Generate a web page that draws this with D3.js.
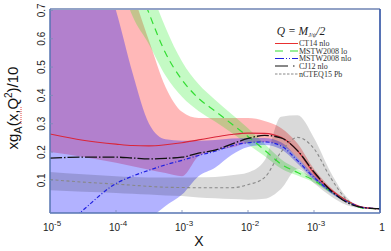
<!DOCTYPE html>
<html><head><meta charset="utf-8">
<script src="https://cdn.jsdelivr.net/npm/d3@7"></script>
<style>body{margin:0;background:#fff;} svg{display:block}</style>
</head><body><svg id="c" width="391" height="251"></svg>
<script>
// log10(x) grid
const logX = [-5,-4.5,-4,-3.75,-3.5,-3.25,-3,-2.75,-2.5,-2.25,-2,-1.75,-1.5,-1.25,-1,-0.75,-0.5,-0.25,0];
// CT14 nlo
const ct14    = [0.264,0.242,0.228,0.223,0.222,0.226,0.233,0.243,0.253,0.262,0.267,0.266,0.252,0.205,0.125,0.068,0.028,0.005,0];
const ct14Lo  = [0.200,0.183,0.162,0.150,0.138,0.126,0.115,0.185,0.205,0.216,0.232,0.236,0.225,0.180,0.110,0.060,0.025,0.004,0];
const ct14Hi  = [1.05,1.00,0.90,0.76,0.593,0.43,0.342,0.320,0.320,0.320,0.320,0.310,0.285,0.230,0.140,0.075,0.030,0.005,0];
// MSTW2008 lo
const mstwLo   = [2.2,1.6,1.1,0.85,0.69,0.55,0.455,0.39,0.345,0.30,0.255,0.207,0.158,0.128,0.10,0.062,0.028,0.002,0];
const mstwLoLo = [1.8,1.3,0.85,0.68,0.58,0.47,0.395,0.345,0.308,0.268,0.228,0.186,0.142,0.117,0.092,0.056,0.025,0.001,0];
const mstwLoHi = [2.6,1.9,1.4,1.05,0.80,0.64,0.52,0.44,0.385,0.334,0.284,0.229,0.175,0.14,0.108,0.068,0.031,0.003,0];
// MSTW2008 nlo
const mstwNlo   = [-0.11,-0.005,0.089,0.115,0.136,0.155,0.171,0.188,0.203,0.222,0.233,0.236,0.222,0.17,0.11,0.062,0.025,0.004,0];
const mstwNloLo = [-0.5,-0.35,-0.2,-0.11,-0.04,0.01,0.05,0.115,0.145,0.19,0.218,0.225,0.21,0.16,0.102,0.056,0.022,0.003,0];
const mstwNloHi = [1.2,1.0,0.70,0.48,0.30,0.245,0.24,0.24,0.243,0.248,0.25,0.25,0.235,0.18,0.118,0.068,0.028,0.005,0];
// CJ12 nlo
const cj12 = [0.179,0.182,0.182,0.179,0.176,0.178,0.182,0.196,0.207,0.228,0.248,0.259,0.25,0.205,0.13,0.065,0.022,0.004,0];
// nCTEQ15 Pb
const ncteq   = [0.103,0.094,0.087,0.083,0.079,0.076,0.075,0.074,0.074,0.074,0.085,0.11,0.2,0.252,0.212,0.11,0.032,0.003,0];
const ncteqLo = [0.065,0.06,0.056,0.053,0.05,0.047,0.045,0.04,0.037,0.034,0.032,0.035,0.07,0.14,0.09,0.045,0.012,0.001,0];
const ncteqHi = [0.13,0.122,0.115,0.112,0.11,0.11,0.11,0.111,0.112,0.118,0.128,0.17,0.325,0.33,0.25,0.13,0.04,0.004,0];

const xTicks = [1e-5,1e-4,1e-3,1e-2,1e-1,1];
const xTickLabels = [["10","-5"],["10","-4"],["10","-3"],["10","-2"],["10","-3"],["1",""]];
const yTicks = [0.1,0.2,0.3,0.4,0.5,0.6,0.7];
const legendNames = ["CT14 nlo","MSTW2008 lo","MSTW2008 nlo","CJ12 nlo","nCTEQ15 Pb"];

const svg = d3.select("#c");
const L=50,R=380,T=9,B=213;
const x = d3.scaleLog().domain([1e-5,1]).range([L,R]);
const y = d3.scaleLinear().domain([-0.015,0.705]).range([B,T]);
const xs = logX.map(e=>Math.pow(10,e));

svg.append("defs").append("clipPath").attr("id","clip")
  .append("rect").attr("x",L).attr("y",T).attr("width",R-L).attr("height",B-T);
const g = svg.append("g").attr("clip-path","url(#clip)");

const area = (lo,hi)=>d3.area().x((d,i)=>x(xs[i])).y0((d,i)=>y(lo[i])).y1((d,i)=>y(hi[i])).curve(d3.curveMonotoneX)(xs);
const line = (v)=>d3.line().x((d,i)=>x(xs[i])).y((d,i)=>y(v[i])).curve(d3.curveMonotoneX)(xs);

g.append("path").attr("d",area(ct14Lo,ct14Hi)).attr("fill","rgba(255,0,0,0.28)");
g.append("path").attr("d",area(mstwLoLo,mstwLoHi)).attr("fill","rgba(0,235,0,0.23)");
g.append("path").attr("d",area(mstwNloLo,mstwNloHi)).attr("fill","rgba(0,0,255,0.30)");
g.append("path").attr("d",area(ncteqLo,ncteqHi)).attr("fill","rgba(0,0,0,0.15)");

const styles = [
  {v:ct14, c:"#d9263a", d:null, w:1.1},
  {v:mstwLo, c:"#33dd33", d:"7,5", w:1.2},
  {v:mstwNlo, c:"#2020e0", d:"4,2,1,2", w:1.2},
  {v:cj12, c:"#111", d:"12,2,1.5,2", w:1.3},
  {v:ncteq, c:"#888", d:"3,2.5", w:1.1}
];
[4,1,0,2,3].forEach(k=>{
  const s=styles[k];
  g.append("path").attr("d",line(s.v)).attr("fill","none").attr("stroke",s.c)
   .attr("stroke-width",s.w).attr("stroke-dasharray",s.d);
});

// frame
svg.append("line").attr("x1",L).attr("x2",R).attr("y1",T).attr("y2",T).attr("stroke","#92a2c6").attr("stroke-width",1.8);
svg.append("line").attr("x1",R).attr("x2",R).attr("y1",T).attr("y2",B).attr("stroke","#4564ad").attr("stroke-width",1.8);
svg.append("line").attr("x1",L).attr("x2",L).attr("y1",T).attr("y2",B).attr("stroke","#5674b2").attr("stroke-width",1.5);
svg.append("line").attr("x1",L).attr("x2",R).attr("y1",B).attr("y2",B).attr("stroke","#5674b2").attr("stroke-width",1.5);

// ticks
xTicks.forEach(t=>svg.append("line").attr("x1",x(t)).attr("x2",x(t)).attr("y1",B).attr("y2",B-3).attr("stroke","#7a8cb8").attr("stroke-width",0.8));
yTicks.forEach(t=>svg.append("line").attr("x1",L).attr("x2",L+3).attr("y1",y(t)).attr("y2",y(t)).attr("stroke","#7a8cb8").attr("stroke-width",0.8));

// x tick labels
xTicks.forEach((t,i)=>{
  const [b,e]=xTickLabels[i];
  const tx = svg.append("text").attr("x",x(t)+2).attr("y",231).attr("text-anchor","middle")
    .attr("font-family","Liberation Sans, Arial, sans-serif").attr("font-size",10).attr("fill","#222");
  tx.append("tspan").text(b);
  if(e) tx.append("tspan").attr("dy",-5).attr("font-size",8).text(e);
});
// y tick labels
yTicks.forEach(t=>{
  svg.append("text").attr("transform",`translate(45,${y(t)}) rotate(-90)`).attr("text-anchor","middle")
    .attr("font-family","Liberation Sans, Arial, sans-serif").attr("font-size",10).attr("fill","#222").text(d3.format(".1f")(t));
});

// axis titles
svg.append("text").attr("x",199).attr("y",246).attr("text-anchor","middle")
  .attr("font-family","Liberation Sans, Arial, sans-serif").attr("font-size",14).attr("fill","#111").text("X");
const yt = svg.append("text").attr("transform","translate(18,108) rotate(-90)").attr("text-anchor","middle")
  .attr("font-family","Liberation Sans, Arial, sans-serif").attr("font-size",15).attr("fill","#111");
yt.append("tspan").text("xg");
yt.append("tspan").attr("dy",4).attr("font-size",11).text("A");
yt.append("tspan").attr("dy",-4).text("(x,Q");
yt.append("tspan").attr("dy",-6).attr("font-size",10).text("2");
yt.append("tspan").attr("dy",6).text(")/10");
// spell-check squiggle under "gA"
svg.append("line").attr("x1",21).attr("x2",21).attr("y1",107).attr("y2",124).attr("stroke","#e04040").attr("stroke-width",1).attr("stroke-dasharray","1,1");

// legend
const lg = svg.append("g");
lg.append("text").attr("x",301).attr("y",34.5).attr("text-anchor","middle")
  .attr("font-family","Liberation Serif, serif").attr("font-style","italic").attr("font-size",11.5).attr("fill","#222")
  .html('Q = M<tspan dy="2" font-size="6">J/ψ</tspan><tspan dy="-2">/2</tspan>');
const rows=[43.5,51,58.5,66,74];
const legStyles=[
  {c:"#e83030",d:null},{c:"#33dd33",d:"8,7"},{c:"#2020e0",d:"9,2,1,2,1,2"},{c:"#111",d:"13,5,1.5,5"},{c:"#888",d:"2.5,1.5"}
];
legendNames.forEach((n,i)=>{
  lg.append("line").attr("x1",275).attr("x2",298).attr("y1",rows[i]).attr("y2",rows[i])
    .attr("stroke",legStyles[i].c).attr("stroke-width",1).attr("stroke-dasharray",legStyles[i].d);
  lg.append("text").attr("x",299).attr("y",rows[i]+2.5).attr("font-family","Liberation Serif, serif")
    .attr("font-size",8).attr("fill","#333").text(n);
});
</script></body></html>
